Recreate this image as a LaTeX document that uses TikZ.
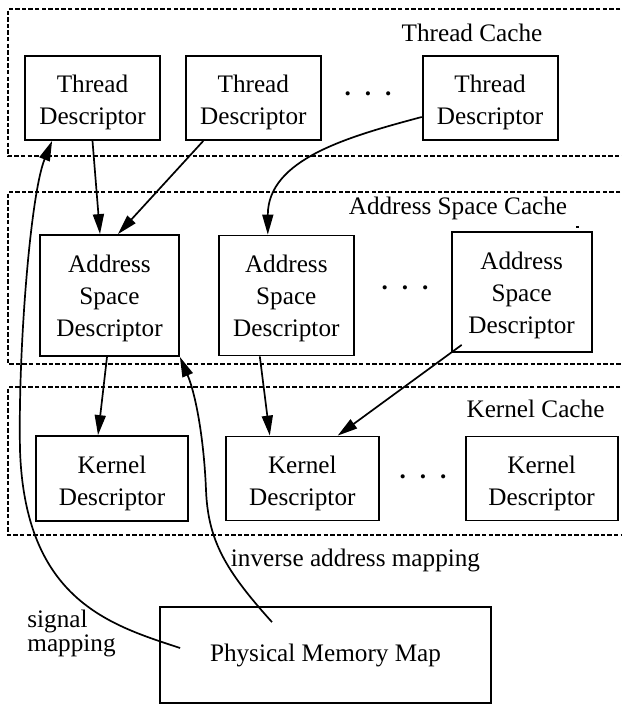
\documentclass[tikz,border=0pt]{standalone}
\usepackage{fontspec}
\setmainfont{Liberation Serif}
\usetikzlibrary{arrows.meta,positioning}
\newcommand\tightlines{\fontsize{12.6}{12}\selectfont\setlength{\lineskiplimit}{-5pt}}

\begin{document}
\begin{tikzpicture}[x=0.5pt,y=-0.5pt,>={Triangle[length=10pt,width=5.5pt]},
    font=\fontsize{12.6}{16}\selectfont,
    desc/.style={draw,line width=0.9pt,align=center,inner sep=0pt},
    twoline/.style={desc,text height=29.5pt},
    threeline/.style={desc,text height=44pt},
    cache/.style={draw,line width=1.4pt,dash pattern=on 2.2pt off 1.1pt},
    link/.style={->,line width=0.85pt},
    dots/.style={anchor=base,font=\fontsize{12.6}{16}\selectfont\bfseries}]
    \useasboundingbox (0,0) rectangle (621,705);

    \draw[cache] (640,9) -| (8,156) -- (640,156);
    \draw[cache] (640,192) -| (8,364) -- (640,364);
    \draw[cache] (640,387) -| (8,535) -- (640,535);

    \node[twoline,minimum width=67.5pt,minimum height=42pt] (td_1) at (92.5,98) {Thread\\Descriptor};
    \node[twoline,minimum width=67.5pt,minimum height=42pt] (td_2) [right=12pt of td_1] {Thread\\Descriptor};
    \node[twoline,minimum width=67.5pt,minimum height=42pt] (td_3) [right=50pt of td_2] {Thread\\Descriptor};
    \node[dots] (td_dots) at (368,96) {.\hspace{7pt}.\hspace{7pt}.};
    \node[anchor=base] (tc_label) at (472,42) {Thread Cache};

    \node[threeline,minimum width=69.5pt,minimum height=60.5pt] (asd_1) at (109.5,295.5) {Address\\Space\\Descriptor};
    \node[threeline,minimum width=67.5pt,minimum height=60pt] (asd_2) [right=19pt of asd_1] {Address\\Space\\Descriptor};
    \node[threeline,minimum width=70pt,minimum height=60pt] (asd_3) [right=48pt of asd_2,yshift=1.75pt] {Address\\Space\\Descriptor};
    \node[dots] (asd_dots) at (405,289.5) {.\hspace{7pt}.\hspace{7pt}.};
    \node[anchor=base] (asc_label) at (458,215) {Address Space Cache};
    \fill (576,226) rectangle (578.5,228.5);

    \node[twoline,minimum width=76pt,minimum height=42.5pt] (kd_1) at (112,478.5) {Kernel\\Descriptor};
    \node[twoline,minimum width=76.5pt,minimum height=42pt] (kd_2) [right=18pt of kd_1] {Kernel\\Descriptor};
    \node[twoline,minimum width=76pt,minimum height=42pt] (kd_3) [right=42.5pt of kd_2] {Kernel\\Descriptor};
    \node[dots] (kd_dots) at (423,478.5) {.\hspace{7pt}.\hspace{7pt}.};
    \node[anchor=base] (kc_label) at (535.5,417) {Kernel Cache};

    \node[desc,minimum width=165.5pt,minimum height=48pt] (pmm) at (325.5,655) {Physical Memory Map};
    \node[anchor=base] (inv_label) at (355.5,566) {inverse address mapping};
    \node[anchor=north west,inner sep=0pt,align=left,font=\tightlines] (sig_label) at (27,610) {signal\\mapping};

    \coordinate (sig) at ([xshift=10.5pt,yshift=3.5pt]pmm.west);
    \coordinate (inv) at ([xshift=-26.75pt,yshift=-8pt]pmm.north);

    \draw[link] (td_1.south) -- ([xshift=-4.75pt]asd_1.north);
    \draw[link] ([xshift=-25pt]td_2.south) -- ([xshift=4.25pt]asd_1.north);
    \draw[link] ([yshift=-9.5pt]td_3.west) to[out=195,in=90] ([xshift=-9.25pt]asd_2.north);
    \draw[link] ([xshift=-1.25pt]asd_1.south) -- ([xshift=-7pt]kd_1.north);
    \draw[link] ([xshift=-13.25pt]asd_2.south) -- ([xshift=-16.25pt]kd_2.north);
    \draw[link] ([xshift=5.5pt,yshift=4pt]asd_3.south west) -- ([xshift=-21pt]kd_2.north east);
    \draw[link] (sig) .. controls (110,625) and (25,600) .. (20,450)
        .. controls (18,350) and (30.5,193.6) .. ([xshift=14pt]td_1.south west);
    \draw[link] (inv) .. controls (225,570) and (208,540) .. (206,490)
        .. controls (204,440) and (196,395) .. (asd_1.south east);
\end{tikzpicture}
\end{document}
